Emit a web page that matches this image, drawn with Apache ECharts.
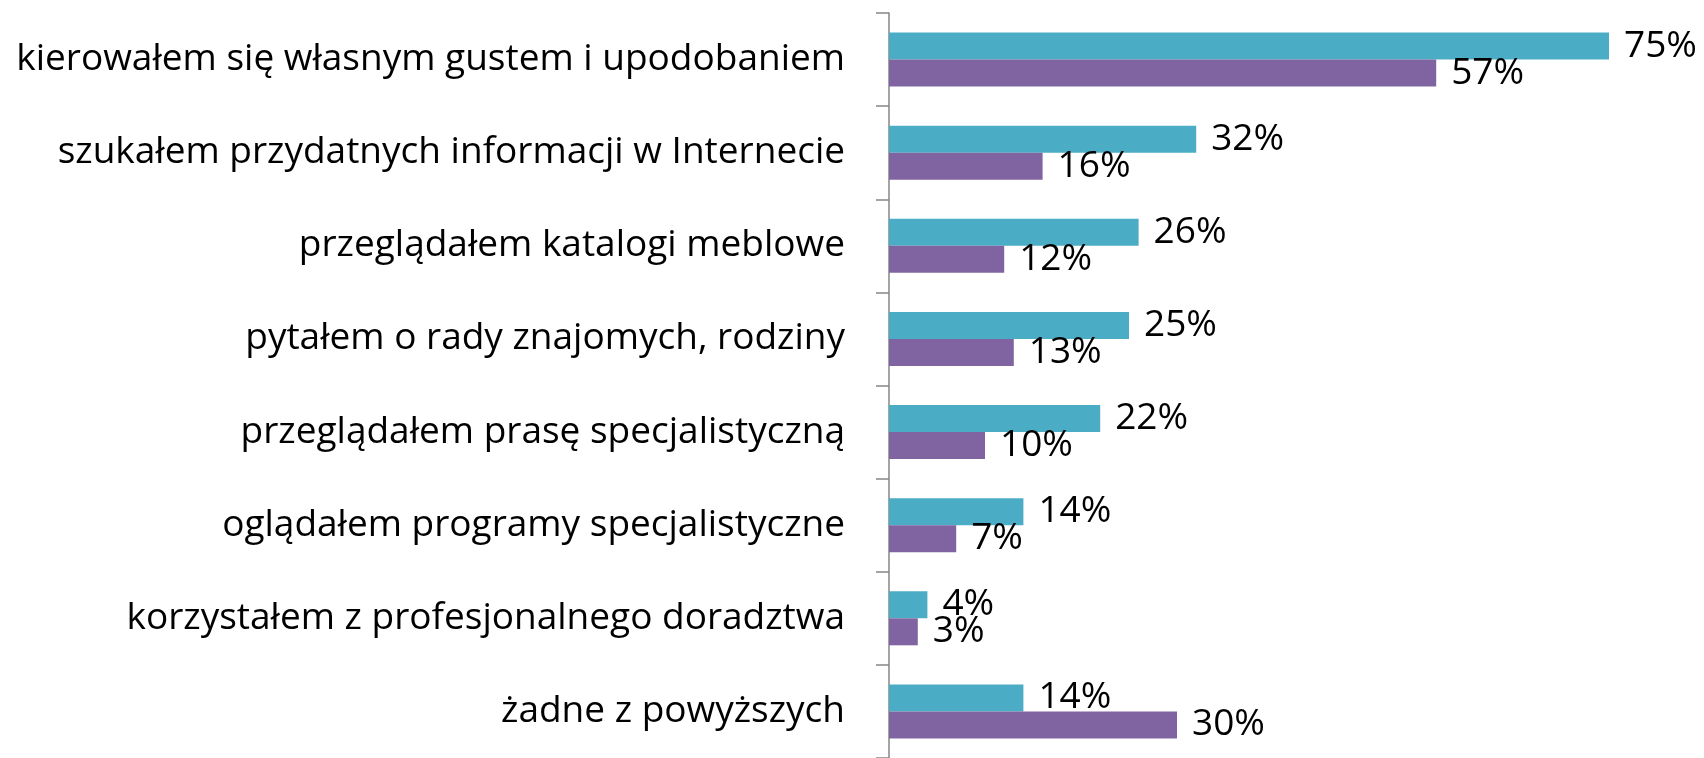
<!DOCTYPE html>
<html>
<head>
    <meta charset="utf-8" />
    <title></title>
    <script src="https://cdn.jsdelivr.net/npm/echarts@6/dist/echarts.min.js"></script>
    <style>
        html, body { margin: 0; padding: 0; background: #fff; }
    </style>
</head>
<body>
    <div id="EChart" style="width:1704px; height:758px;"></div>
    <script type="text/javascript">
        // kategorie (od góry)
        var categories = [
            'kierowałem się własnym gustem i upodobaniem',
            'szukałem przydatnych informacji w Internecie',
            'przeglądałem katalogi meblowe',
            'pytałem o rady znajomych, rodziny',
            'przeglądałem prasę specjalistyczną',
            'oglądałem programy specjalistyczne',
            'korzystałem z profesjonalnego doradztwa',
            'żadne z powyższych'
        ];
        var seriesA = [75, 32, 26, 25, 22, 14, 4, 14];   // niebieski
        var seriesB = [57, 16, 12, 13, 10, 7, 3, 30];    // fioletowy

        var labelStyle = {
            show: true,
            position: 'right',
            distance: 15,
            color: '#000',
            fontFamily: 'Open Sans',
            fontSize: 37,
            formatter: '{c}%'
        };

        var option = {
            animation: false,
            grid: {
                left: 889,
                top: 13,
                width: 768,
                height: 747
            },
            xAxis: {
                type: 'value',
                min: 0,
                max: 80,
                show: false
            },
            yAxis: {
                type: 'category',
                data: categories,
                inverse: true,
                axisLine: { show: true, lineStyle: { color: '#868686', width: 1.5 } },
                axisTick: { show: true, inside: false, alignWithLabel: false, length: 13, lineStyle: { color: '#868686', width: 1.5 } },
                axisLabel: {
                    margin: 44,
                    color: '#000',
                    fontFamily: 'Open Sans',
                    fontSize: 37
                }
            },
            series: [{
                name: 'A',
                type: 'bar',
                data: seriesA,
                barWidth: 27,
                barGap: '0%',
                itemStyle: { color: '#4BACC6' },
                label: labelStyle
            }, {
                name: 'B',
                type: 'bar',
                data: seriesB,
                barWidth: 27,
                itemStyle: { color: '#8064A2' },
                label: labelStyle
            }]
        };

        var myChart = echarts.init(document.getElementById('EChart'));
        myChart.setOption(option);
    </script>
</body>
</html>
